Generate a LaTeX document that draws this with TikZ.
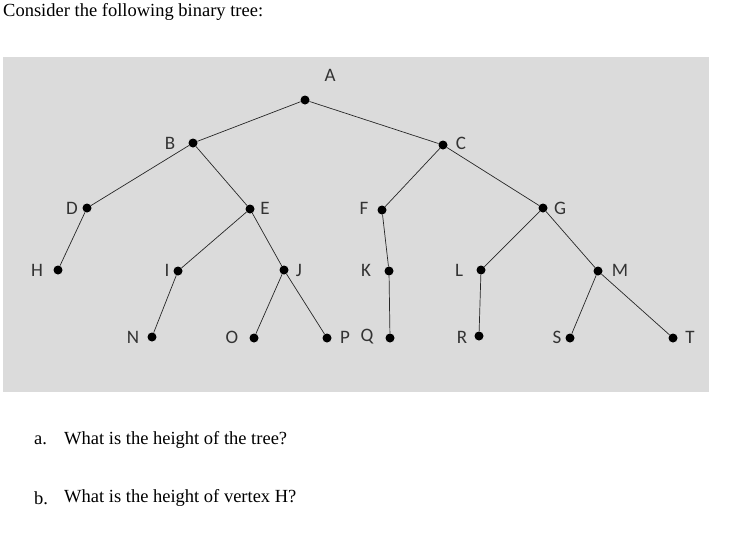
\documentclass[tikz,border=0pt]{standalone}
\usepackage{fontspec}
\setmainfont{Liberation Serif}
\newfontfamily\lblfont{Carlito}
\begin{document}
\begin{tikzpicture}[x=1pt,y=-1pt,
  dot/.style={circle,fill=black,inner sep=0pt,minimum size=9pt},
  lbl/.style={font=\lblfont\fontsize{19}{19}\selectfont,inner sep=0pt,text=black!80},
  txt/.style={font=\fontsize{18.5}{18.5}\selectfont,inner sep=0pt,anchor=west},
  edge/.style={draw=black!85,line width=0.7pt}]
\useasboundingbox (0,0) rectangle (732,533);
\fill[gray!28] (3,57) rectangle (709,392);
\node[txt] at (3,12) {Consider the following binary tree:};
\foreach \n/\x/\y/\lx/\ly in {A/305/100/330/75, B/193/143/170/143, C/443/145/461/143,
  D/87/208/72/208, E/250/209/265/208, F/382/210/364/208, G/543/208/560/208,
  H/58/270/37/270, I/178/271/167/270, J/284/270/299/270, K/389/271/366/270,
  L/481/270/459/270, M/598/271/620/270, N/152/337/133/337, O/254/338/232/337,
  P/327/338/345/337, Q/390/338/367/337, R/479/336/462/337, S/570/338/557/337,
  T/673/338/690/337}{
  \node[dot] (\n) at (\x,\y) {};
  \node[lbl] (l\n) at (\lx,\ly) {\n};
}
\foreach \a/\b in {A/B,A/C,B/D,B/E,D/H,E/I,E/J,I/N,J/O,J/P,C/F,C/G,F/K,K/Q,G/L,G/M,L/R,M/S,M/T}
  \draw[edge] (\a) -- (\b);
\node[txt] at (34,440) {a.};
\node[txt] at (64,440) {What is the height of the tree?};
\node[txt] at (34,498) {b.};
\node[txt] at (64,498) {What is the height of vertex H?};
\end{tikzpicture}
\end{document}
